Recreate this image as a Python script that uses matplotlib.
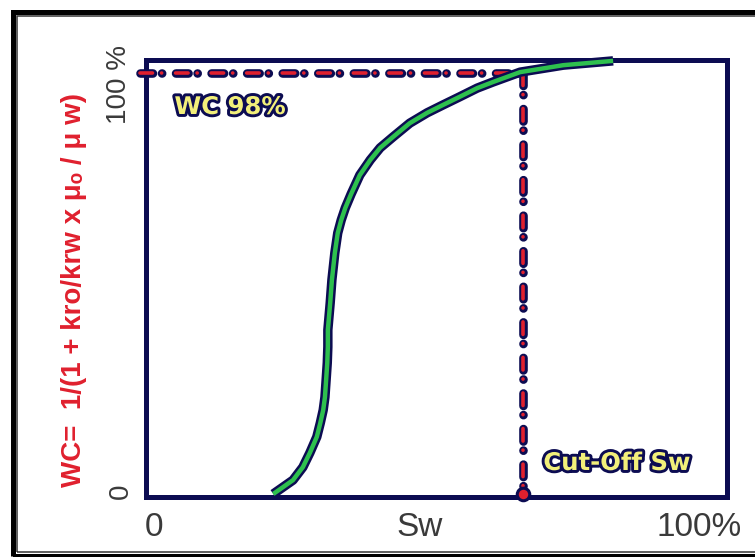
import matplotlib
matplotlib.use("Agg")
import matplotlib.pyplot as plt
import matplotlib.patheffects as pe
from matplotlib.patches import Rectangle

# ---- data ----
sw = [21.9, 25.3, 27.0, 28.2, 29.4, 30.0, 30.5, 30.8, 31.0, 31.2, 31.3, 31.3,
      31.7, 32.0, 32.5, 33.0, 33.6, 34.3, 35.3, 36.8, 38.6, 40.3, 42.5, 45.4, 48.4,
      51.1, 54.0, 57.0, 59.7, 64.4, 71.8, 80.4]
wc = [0.7, 3.9, 6.9, 10.2, 13.9, 17.1, 20.1, 23.1, 27.0, 31.0, 34.7, 38.6,
      44.8, 50.2, 56.4, 61.0, 64.0, 66.8, 70.0, 74.4, 77.9, 80.7, 83.2, 86.4, 88.8,
      90.6, 92.5, 94.5, 95.9, 98.2, 99.8, 100.8]
wc_cut = 98.0
sw_cut = 64.9
x_labels = ["0", "Sw", "100%"]
y_labels = ["0", "100 %"]
ylabel_text = "WC=  1/(1 + kro/krw x μₒ / μ w)"
wc_label = "WC 98%"
cut_label = "Cut-Off Sw"

W, H = 755, 557
NAVY = "#0c0c52"
RED = "#e0202e"
GREEN = "#2ec04e"
YELLOW = "#f2ef7a"
GRAY = "#3a3a3a"

plt.rcParams["lines.scale_dashes"] = False

fig = plt.figure(figsize=(W / 100, H / 100), dpi=100)
fig.patch.set_facecolor("white")

def fx(px):
    return px / W

def fy(py):
    return 1 - py / H

# outer double frame
fig.add_artist(Rectangle((fx(12.5), fy(555.5)), fx(770) - fx(12.5), fy(11.5) - fy(555.5),
                         transform=fig.transFigure, fill=False, ec="black", lw=3.6))
fig.add_artist(Rectangle((fx(16.5), fy(552)), fx(770) - fx(16.5), fy(16) - fy(552),
                         transform=fig.transFigure, fill=False, ec="#333333", lw=1.1))

ax = fig.add_axes([fx(146), fy(497), fx(727) - fx(146), fy(60) - fy(497)])
ax.set_xlim(0, 100)
ax.set_ylim(0, 101)
for s in ax.spines.values():
    s.set_color(NAVY)
    s.set_linewidth(3.6)
ax.set_xticks([])
ax.set_yticks([])

# dash-dot cut-off lines
dash = (9.0, 6.5, 0.1, 10.0)
eff = [pe.Stroke(linewidth=6.2, foreground=NAVY, capstyle="round"), pe.Normal()]
l1, = ax.plot([-1.0, sw_cut], [wc_cut, wc_cut], color=RED, lw=2.6, clip_on=False,
              dash_capstyle="round", zorder=3)
l1.set_dashes(dash)
l1.set_path_effects(eff)
l2, = ax.plot([sw_cut, sw_cut], [wc_cut, 0], color=RED, lw=2.6, clip_on=False,
              dash_capstyle="round", zorder=3)
l2.set_dashes(dash)
l2.set_path_effects(eff)
ax.plot([sw_cut], [0.6], marker="o", ms=9, mfc=RED, mec=NAVY, mew=2.2,
        clip_on=False, zorder=4)

# water-cut curve
ax.plot(sw, wc, color=GREEN, lw=3.2, solid_capstyle="butt", solid_joinstyle="round",
        clip_on=False, zorder=5,
        path_effects=[pe.Stroke(linewidth=6.8, foreground=NAVY, joinstyle="round"),
                      pe.Normal()])

# annotations
outline = [pe.withStroke(linewidth=4.2, foreground=NAVY)]
fig.text(fx(230), fy(107), wc_label, ha="center", va="center", fontsize=17.5,
         fontweight="bold", family="DejaVu Sans", color=YELLOW, path_effects=outline)
fig.text(fx(617), fy(463), cut_label, ha="center", va="center", fontsize=17.5,
         fontweight="bold", family="DejaVu Sans", color=YELLOW, path_effects=outline)

# tick-like labels
fig.text(fx(154), fy(527), x_labels[0], ha="center", va="center", fontsize=24,
         family="Liberation Sans", color=GRAY)
fig.text(fx(420), fy(527), x_labels[1], ha="center", va="center", fontsize=24,
         family="Liberation Sans", color=GRAY)
fig.text(fx(699), fy(527), x_labels[2], ha="center", va="center", fontsize=24,
         family="Liberation Sans", color=GRAY)
fig.text(fx(121), fy(491), y_labels[0], ha="center", va="center", fontsize=20,
         rotation=90, family="Liberation Sans", color=GRAY)
fig.text(fx(119), fy(84), y_labels[1], ha="center", va="center", fontsize=20,
         rotation=90, family="Liberation Sans", color=GRAY)

# y axis title
fig.text(fx(74), fy(290), ylabel_text, ha="center", va="center", fontsize=20,
         rotation=90, fontweight="bold", family=["Liberation Sans", "DejaVu Sans"],
         color=RED)

fig.savefig("out.png", dpi=100)
